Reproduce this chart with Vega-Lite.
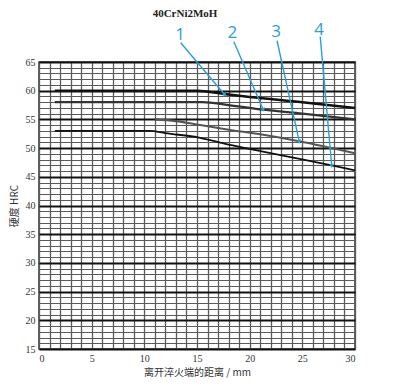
{
  "$schema": "https://vega.github.io/schema/vega-lite/v6.json",
  "width": 316,
  "height": 287,
  "autosize": {"type": "none"},
  "padding": {"left": 39, "top": 62, "right": 49, "bottom": 36},
  "background": "white",
  "title": {
    "text": "40CrNi2MoH",
    "font": "Liberation Serif",
    "fontSize": 11,
    "fontWeight": "bold",
    "color": "#222",
    "anchor": "middle",
    "frame": "group",
    "dx": -12,
    "offset": 2
  },
  "config": {
    "view": {"stroke": "#333", "strokeWidth": 1.5},
    "axis": {
      "ticks": false,
      "domain": false,
      "grid": true,
      "labelFont": "Liberation Serif",
      "labelFontSize": 10,
      "labelColor": "#333",
      "labelPadding": 4,
      "labelOverlap": false,
      "labelExpr": "datum.value % 5 === 0 ? datum.label : ''",
      "titleFont": "Noto Sans CJK SC",
      "titleFontSize": 10,
      "titleFontWeight": "normal",
      "titleColor": "#333"
    }
  },
  "datasets": {
    "curves": [
      {"series": "1", "x": 1.5, "y": 60},
      {"series": "1", "x": 15, "y": 60},
      {"series": "1", "x": 17.7, "y": 59.4},
      {"series": "1", "x": 20, "y": 58.9},
      {"series": "1", "x": 25, "y": 58},
      {"series": "1", "x": 30, "y": 57},
      {"series": "2", "x": 1.5, "y": 58},
      {"series": "2", "x": 15.5, "y": 58},
      {"series": "2", "x": 18, "y": 57.5},
      {"series": "2", "x": 21.3, "y": 56.7},
      {"series": "2", "x": 25, "y": 56},
      {"series": "2", "x": 30, "y": 55},
      {"series": "3", "x": 11, "y": 55},
      {"series": "3", "x": 13, "y": 54.7},
      {"series": "3", "x": 15, "y": 54.1},
      {"series": "3", "x": 18, "y": 53.2},
      {"series": "3", "x": 21, "y": 52.4},
      {"series": "3", "x": 24.7, "y": 51.2},
      {"series": "3", "x": 30, "y": 49.1},
      {"series": "4", "x": 1.5, "y": 53},
      {"series": "4", "x": 10.5, "y": 53},
      {"series": "4", "x": 12, "y": 52.6},
      {"series": "4", "x": 15.3, "y": 51.8},
      {"series": "4", "x": 18, "y": 50.6},
      {"series": "4", "x": 21, "y": 49.5},
      {"series": "4", "x": 24, "y": 48.4},
      {"series": "4", "x": 27.8, "y": 47},
      {"series": "4", "x": 30, "y": 46.1}
    ],
    "notes": [
      {"id": 1, "label": "1", "tx": 13.39, "ty": 69.7, "x1": 13.45, "y1": 68.36, "x2": 17.66, "y2": 59.25},
      {"id": 2, "label": "2", "tx": 18.35, "ty": 70.0, "x1": 18.5, "y1": 68.54, "x2": 21.3, "y2": 56.64},
      {"id": 3, "label": "3", "tx": 22.5, "ty": 70.17, "x1": 22.6, "y1": 68.7, "x2": 24.71, "y2": 51.12},
      {"id": 4, "label": "4", "tx": 26.6, "ty": 70.57, "x1": 26.7, "y1": 69.4, "x2": 27.79, "y2": 46.88}
    ]
  },
  "layer": [
    {
      "data": {"name": "curves"},
      "mark": {"type": "line", "interpolate": "monotone"},
      "encoding": {
        "x": {
          "field": "x",
          "type": "quantitative",
          "scale": {"domain": [0, 30], "nice": false, "zero": false},
          "axis": {
            "values": [0,1,2,3,4,5,6,7,8,9,10,11,12,13,14,15,16,17,18,19,20,21,22,23,24,25,26,27,28,29,30],
            "title": "离开淬火端的距离 / mm",
            "titlePadding": 4,
            "labelFont": "Liberation Serif",
            "gridColor": "#5a5a5a",
            "gridWidth": 1.3
          }
        },
        "y": {
          "field": "y",
          "type": "quantitative",
          "scale": {"domain": [15, 65], "nice": false, "zero": false},
          "axis": {
            "values": [15,16,17,18,19,20,21,22,23,24,25,26,27,28,29,30,31,32,33,34,35,36,37,38,39,40,41,42,43,44,45,46,47,48,49,50,51,52,53,54,55,56,57,58,59,60,61,62,63,64,65],
            "title": "硬度 HRC",
            "titlePadding": 6,
            "labelFont": "Liberation Serif",
            "gridColor": {"condition": {"test": "datum.value % 5 === 0", "value": "#111"}, "value": "#5a5a5a"},
            "gridWidth": {"condition": {"test": "datum.value % 5 === 0", "value": 2}, "value": 1.1}
          }
        },
        "detail": {"field": "series", "type": "nominal"},
        "color": {
          "field": "series",
          "type": "nominal",
          "scale": {"domain": ["1", "2", "3", "4"], "range": ["#111111", "#333333", "#555555", "#111111"]},
          "legend": null
        },
        "strokeWidth": {
          "field": "series",
          "type": "ordinal",
          "scale": {"domain": ["1", "2", "3", "4"], "range": [2.6, 1.8, 1.5, 2.6]},
          "legend": null
        }
      }
    },
    {
      "data": {"name": "notes"},
      "mark": {"type": "rule", "color": "#2a9fd6", "strokeWidth": 1.4},
      "encoding": {
        "x": {
          "field": "x1",
          "type": "quantitative",
          "scale": {"domain": [0, 30], "nice": false, "zero": false},
          "axis": {
            "values": [0,1,2,3,4,5,6,7,8,9,10,11,12,13,14,15,16,17,18,19,20,21,22,23,24,25,26,27,28,29,30],
            "title": "离开淬火端的距离 / mm",
            "titlePadding": 4,
            "labelFont": "Liberation Serif",
            "gridColor": "#5a5a5a",
            "gridWidth": 1.3
          }
        },
        "y": {
          "field": "y1",
          "type": "quantitative",
          "scale": {"domain": [15, 65], "nice": false, "zero": false},
          "axis": {
            "values": [15,16,17,18,19,20,21,22,23,24,25,26,27,28,29,30,31,32,33,34,35,36,37,38,39,40,41,42,43,44,45,46,47,48,49,50,51,52,53,54,55,56,57,58,59,60,61,62,63,64,65],
            "title": "硬度 HRC",
            "titlePadding": 6,
            "labelFont": "Liberation Serif",
            "gridColor": {"condition": {"test": "datum.value % 5 === 0", "value": "#111"}, "value": "#5a5a5a"},
            "gridWidth": {"condition": {"test": "datum.value % 5 === 0", "value": 2}, "value": 1.1}
          }
        },
        "x2": {"field": "x2"},
        "y2": {"field": "y2"}
      }
    },
    {
      "data": {"name": "notes"},
      "mark": {"type": "point", "shape": "triangle-down", "filled": true, "color": "#2a9fd6", "size": 22, "opacity": 1},
      "encoding": {
        "x": {
          "field": "x2",
          "type": "quantitative",
          "scale": {"domain": [0, 30], "nice": false, "zero": false},
          "axis": {
            "values": [0,1,2,3,4,5,6,7,8,9,10,11,12,13,14,15,16,17,18,19,20,21,22,23,24,25,26,27,28,29,30],
            "title": "离开淬火端的距离 / mm",
            "titlePadding": 4,
            "labelFont": "Liberation Serif",
            "gridColor": "#5a5a5a",
            "gridWidth": 1.3
          }
        },
        "y": {
          "field": "y2",
          "type": "quantitative",
          "scale": {"domain": [15, 65], "nice": false, "zero": false},
          "axis": {
            "values": [15,16,17,18,19,20,21,22,23,24,25,26,27,28,29,30,31,32,33,34,35,36,37,38,39,40,41,42,43,44,45,46,47,48,49,50,51,52,53,54,55,56,57,58,59,60,61,62,63,64,65],
            "title": "硬度 HRC",
            "titlePadding": 6,
            "labelFont": "Liberation Serif",
            "gridColor": {"condition": {"test": "datum.value % 5 === 0", "value": "#111"}, "value": "#5a5a5a"},
            "gridWidth": {"condition": {"test": "datum.value % 5 === 0", "value": 2}, "value": 1.1}
          }
        },
        "angle": {
          "field": "id",
          "type": "quantitative",
          "scale": {"domain": [1, 2, 3, 4], "range": [320, 337, 348, 355]},
          "legend": null
        }
      }
    },
    {
      "data": {"name": "notes"},
      "mark": {"type": "text", "font": "Open Sans", "fontSize": 17, "color": "#2a9fd6", "baseline": "middle", "align": "center"},
      "encoding": {
        "x": {
          "field": "tx",
          "type": "quantitative",
          "scale": {"domain": [0, 30], "nice": false, "zero": false},
          "axis": {
            "values": [0,1,2,3,4,5,6,7,8,9,10,11,12,13,14,15,16,17,18,19,20,21,22,23,24,25,26,27,28,29,30],
            "title": "离开淬火端的距离 / mm",
            "titlePadding": 4,
            "labelFont": "Liberation Serif",
            "gridColor": "#5a5a5a",
            "gridWidth": 1.3
          }
        },
        "y": {
          "field": "ty",
          "type": "quantitative",
          "scale": {"domain": [15, 65], "nice": false, "zero": false},
          "axis": {
            "values": [15,16,17,18,19,20,21,22,23,24,25,26,27,28,29,30,31,32,33,34,35,36,37,38,39,40,41,42,43,44,45,46,47,48,49,50,51,52,53,54,55,56,57,58,59,60,61,62,63,64,65],
            "title": "硬度 HRC",
            "titlePadding": 6,
            "labelFont": "Liberation Serif",
            "gridColor": {"condition": {"test": "datum.value % 5 === 0", "value": "#111"}, "value": "#5a5a5a"},
            "gridWidth": {"condition": {"test": "datum.value % 5 === 0", "value": 2}, "value": 1.1}
          }
        },
        "text": {"field": "label"}
      }
    }
  ]
}
